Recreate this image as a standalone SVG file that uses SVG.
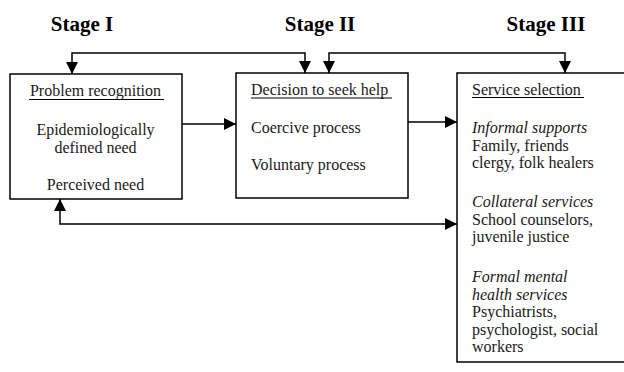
<svg xmlns="http://www.w3.org/2000/svg" width="624" height="372" viewBox="0 0 624 372">
<defs>
<marker id="ah" markerUnits="userSpaceOnUse" markerWidth="12" markerHeight="12" viewBox="0 0 11 11" refX="11" refY="5.5" orient="auto-start-reverse">
<path d="M0,0 L11,5.5 L0,11 z" fill="#000"/>
</marker>
<style>
.box{fill:#fff;stroke:#000;stroke-width:1.5}
.con{fill:none;stroke:#000;stroke-width:1.5}
.ul{stroke:#000;stroke-width:1}
text{font-family:"Liberation Serif","Times New Roman",serif;font-size:16px;fill:#1a1a1a}
.stage{font-weight:bold;font-size:21px;fill:#000;text-anchor:middle}
.c{text-anchor:middle}
.i{font-style:italic}
</style>
</defs>
<rect width="624" height="372" fill="#fff"/>
<g id="stages">
<text class="stage" x="82" y="31">Stage I</text>
<text class="stage" x="320" y="31">Stage II</text>
<text class="stage" x="546" y="31">Stage III</text>
</g>
<g id="connectors">
<path class="con" d="M72,74 V53 H305 V73" marker-start="url(#ah)" marker-end="url(#ah)"/>
<path class="con" d="M329,73 V53 H565 V73" marker-start="url(#ah)" marker-end="url(#ah)"/>
<path class="con" d="M182,124 H236" marker-end="url(#ah)"/>
<path class="con" d="M408,122 H457" marker-end="url(#ah)"/>
<path class="con" d="M60,199 V224 H457" marker-start="url(#ah)" marker-end="url(#ah)"/>
</g>
<g id="problem-recognition">
<rect class="box" x="10" y="74" width="172" height="125"/>
<text class="c" x="95.5" y="96">Problem recognition</text>
<line class="ul" x1="29" y1="99.5" x2="164" y2="99.5"/>
<text class="c" x="95.5" y="135">Epidemiologically</text>
<text class="c" x="95.5" y="153">defined need</text>
<text class="c" x="95.5" y="190">Perceived need</text>
</g>
<g id="decision-to-seek-help">
<rect class="box" x="236" y="73" width="172" height="125"/>
<text x="251" y="95">Decision to seek help</text>
<line class="ul" x1="251" y1="98" x2="392" y2="98"/>
<text x="251" y="133">Coercive process</text>
<text x="251" y="170">Voluntary process</text>
</g>
<g id="service-selection">
<path class="box" d="M626,73 H457 V362 H626"/>
<text x="472" y="95">Service selection</text>
<line class="ul" x1="472" y1="97.5" x2="584" y2="97.5"/>
<text class="i" x="472" y="133">Informal supports</text>
<text x="472" y="150.5">Family, friends</text>
<text x="472" y="168">clergy, folk healers</text>
<text class="i" x="472" y="207">Collateral services</text>
<text x="472" y="224.5">School counselors,</text>
<text x="472" y="242">juvenile justice</text>
<text class="i" x="472" y="282">Formal mental</text>
<text class="i" x="472" y="299.5">health services</text>
<text x="472" y="317">Psychiatrists,</text>
<text x="472" y="334.5">psychologist, social</text>
<text x="472" y="352">workers</text>
</g>
</svg>
